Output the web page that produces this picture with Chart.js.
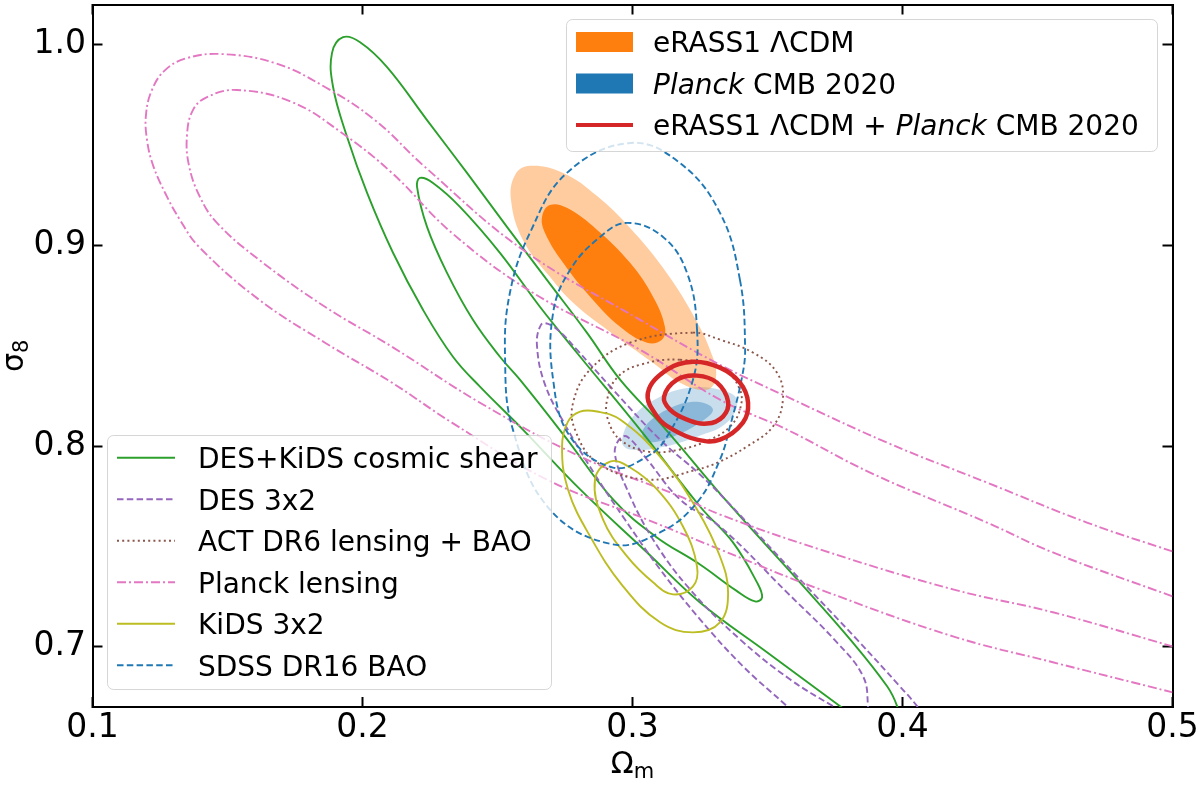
<!DOCTYPE html>
<html><head><meta charset="utf-8">
<script src="https://cdn.jsdelivr.net/npm/chart.js@4.4.1/dist/chart.umd.min.js"></script>
<style>html,body{margin:0;padding:0;background:#fff}</style>
</head><body>
<canvas id="c" width="1200" height="791" style="width:1200px;height:791px;display:block"></canvas>
<script>
// ---------- axis ranges and ticks ----------
const xRange = [0.1, 0.5];
const yRange = [0.67, 1.02];
const xTicks = [0.1, 0.2, 0.3, 0.4, 0.5];
const yTicks = [0.7, 0.8, 0.9, 1.0];
const xTitle = ['Ω', 'm'];
const yTitle = ['σ', '8'];

// ---------- contours: [Omega_m, sigma_8] ----------
const erassOuter = [[0.2991,0.9087],[0.3113,0.8888],[0.3224,0.8654],[0.3294,0.8455],[0.3309,0.8341],[0.3276,0.8281],[0.3176,0.8316],[0.3076,0.8415],[0.2906,0.858],[0.278,0.8714],[0.2694,0.8843],[0.2594,0.9027],[0.255,0.9226],[0.2565,0.9351],[0.262,0.9396],[0.2743,0.9361],[0.2869,0.9246]];
const erassInner = [[0.2991,0.8913],[0.3076,0.8744],[0.312,0.8594],[0.3109,0.853],[0.3054,0.8515],[0.2954,0.8594],[0.2843,0.8744],[0.2743,0.8913],[0.2676,0.9062],[0.2665,0.9142],[0.2694,0.9201],[0.2757,0.9187],[0.2869,0.9077]];
const planckOuter = [[0.3102,0.7993],[0.2991,0.7983],[0.2961,0.8022],[0.3002,0.8147],[0.3102,0.8246],[0.3213,0.8291],[0.3324,0.8281],[0.3387,0.8231],[0.335,0.8117],[0.3239,0.8047]];
const planckInner = [[0.315,0.8047],[0.3054,0.8022],[0.3039,0.8082],[0.3128,0.8182],[0.3239,0.8221],[0.3298,0.8182],[0.325,0.8117]];
const jointOuter = [[0.3224,0.842],[0.3324,0.8391],[0.3398,0.8316],[0.3428,0.8216],[0.3409,0.8117],[0.3324,0.8032],[0.3239,0.8032],[0.315,0.8082],[0.3091,0.8147],[0.3057,0.8266],[0.3128,0.8381]];
const jointInner = [[0.3239,0.8351],[0.3313,0.8316],[0.3354,0.8221],[0.3335,0.8147],[0.3276,0.8112],[0.3202,0.8132],[0.3139,0.8182],[0.3117,0.8246],[0.3165,0.8331]];
const actOuter = [[0.3224,0.8565],[0.3324,0.853],[0.3447,0.8465],[0.3535,0.8366],[0.3557,0.8231],[0.352,0.8097],[0.3424,0.7998],[0.3324,0.7923],[0.3239,0.7883],[0.3054,0.7833],[0.2869,0.7918],[0.2787,0.8082],[0.278,0.8216],[0.2843,0.8381],[0.2991,0.8515]];
const actInner = [[0.3176,0.843],[0.3335,0.8381],[0.3398,0.8281],[0.3398,0.8182],[0.3361,0.8097],[0.3287,0.8032],[0.3176,0.7983],[0.3054,0.7973],[0.2954,0.8032],[0.2909,0.8132],[0.2906,0.8231],[0.2943,0.8341],[0.3028,0.8405]];
const sdssOuter = [[0.3398,0.8828],[0.3417,0.8495],[0.3406,0.8346],[0.3361,0.8097],[0.3324,0.7933],[0.3239,0.7719],[0.3102,0.757],[0.2928,0.751],[0.2694,0.7684],[0.2557,0.8082],[0.2528,0.8445],[0.2546,0.8764],[0.262,0.9062],[0.2757,0.9361],[0.2991,0.951],[0.3176,0.941],[0.3324,0.9162]];
const sdssInner = [[0.3239,0.858],[0.3224,0.8331],[0.3128,0.8047],[0.3054,0.7948],[0.2928,0.7893],[0.2769,0.8047],[0.2706,0.8331],[0.2706,0.8664],[0.2769,0.8878],[0.288,0.9042],[0.298,0.9112],[0.3113,0.9042],[0.3202,0.8863]];
const shearOuter = [[0.3835,0.6639],[0.3769,0.6704],[0.3498,0.6973],[0.325,0.7221],[0.3054,0.747],[0.2806,0.7784],[0.2594,0.8082],[0.2435,0.8296],[0.2335,0.8445],[0.2224,0.8679],[0.2113,0.8963],[0.2017,0.9261],[0.1943,0.954],[0.1891,0.9789],[0.1887,0.9958],[0.1928,1.0037],[0.1991,1.0012],[0.2091,0.9888],[0.2239,0.9624],[0.2387,0.9361],[0.2535,0.9092],[0.2683,0.8828],[0.2831,0.8565],[0.2954,0.8331],[0.3117,0.8092],[0.3343,0.7734],[0.362,0.7321],[0.3806,0.7037],[0.3943,0.6803],[0.398,0.6704],[0.3987,0.6639]];
const shearInner = [[0.2657,0.8694],[0.2794,0.8465],[0.3028,0.8082],[0.325,0.7699],[0.3372,0.752],[0.3461,0.7321],[0.348,0.7246],[0.3454,0.7226],[0.3383,0.7281],[0.325,0.741],[0.3085,0.755],[0.2928,0.7734],[0.275,0.8047],[0.2583,0.8331],[0.2509,0.8445],[0.2409,0.8629],[0.2313,0.8863],[0.2239,0.9092],[0.2202,0.9291],[0.2213,0.9336],[0.2261,0.9311],[0.2361,0.9192],[0.2509,0.8963]];
const des3x2Outer = [[0.362,0.6639],[0.3572,0.6704],[0.3409,0.6903],[0.325,0.7137],[0.3102,0.7386],[0.2972,0.7634],[0.2861,0.7858],[0.275,0.8107],[0.2676,0.8306],[0.2646,0.8505],[0.2661,0.8604],[0.2687,0.8609],[0.2731,0.857],[0.2794,0.848],[0.2928,0.8281],[0.3102,0.8032],[0.325,0.7858],[0.3361,0.7709],[0.362,0.7336],[0.3831,0.7037],[0.399,0.6803],[0.4054,0.6704],[0.4083,0.6639]];
const des3x2Inner = [[0.3806,0.6659],[0.3743,0.6704],[0.3583,0.6838],[0.3398,0.7037],[0.3213,0.7286],[0.3076,0.7535],[0.298,0.7784],[0.2935,0.7958],[0.295,0.8032],[0.298,0.8047],[0.3054,0.7933],[0.3176,0.7734],[0.3324,0.7599],[0.3572,0.7271],[0.3757,0.7022],[0.3854,0.6853],[0.3872,0.6704],[0.3865,0.6659]];
const kidsOuter = [[0.3239,0.7684],[0.3324,0.745],[0.3354,0.7271],[0.3324,0.7122],[0.3224,0.7072],[0.3102,0.7122],[0.2965,0.7301],[0.2843,0.755],[0.2761,0.7784],[0.2739,0.7998],[0.2761,0.8122],[0.2806,0.8172],[0.2869,0.8172],[0.2954,0.8132],[0.3102,0.7948]];
const kidsInner = [[0.3091,0.7784],[0.3187,0.7599],[0.3239,0.74],[0.3224,0.7301],[0.315,0.7261],[0.3076,0.7321],[0.298,0.745],[0.2891,0.7634],[0.2861,0.7833],[0.2917,0.7923],[0.2991,0.7893]];
const lensOuter = [[0.5,0.7475],[0.4683,0.7619],[0.4313,0.7818],[0.3943,0.8017],[0.3572,0.8246],[0.3324,0.8405],[0.3028,0.8629],[0.2594,0.8978],[0.2231,0.9391],[0.2046,0.9624],[0.1861,0.9789],[0.1676,0.9908],[0.148,0.9953],[0.135,0.9933],[0.1269,0.9873],[0.122,0.9774],[0.1198,0.9649],[0.1202,0.9525],[0.1224,0.94],[0.1269,0.9261],[0.1324,0.9127],[0.1394,0.8993],[0.1617,0.8729],[0.1861,0.8515],[0.2109,0.8316],[0.2331,0.8117],[0.2683,0.7833],[0.3054,0.7634],[0.3324,0.7485],[0.3694,0.7286],[0.4187,0.7052],[0.4557,0.6923],[0.5,0.6773]];
const lensInner = [[0.5,0.7251],[0.4557,0.747],[0.4313,0.7619],[0.388,0.7868],[0.3572,0.8082],[0.3324,0.8231],[0.3028,0.848],[0.2631,0.8764],[0.2331,0.9062],[0.2109,0.9361],[0.1924,0.956],[0.1739,0.9714],[0.1535,0.9774],[0.1424,0.9739],[0.1372,0.9674],[0.135,0.955],[0.1357,0.94],[0.1398,0.9241],[0.1461,0.9112],[0.1617,0.8928],[0.1861,0.8694],[0.2109,0.8495],[0.2435,0.8216],[0.2806,0.7948],[0.3176,0.7749],[0.3324,0.7659],[0.3694,0.7485],[0.4187,0.7286],[0.4557,0.7172],[0.5,0.7002]];

// ---------- legend labels ----------
const topLegendLabels = [
  [['eRASS1 ΛCDM', false]],
  [['Planck', true], [' CMB 2020', false]],
  [['eRASS1 ΛCDM + ', false], ['Planck', true], [' CMB 2020', false]]
];
const bottomLegendLabels = ['DES+KiDS cosmic shear', 'DES 3x2', 'ACT DR6 lensing + BAO', 'Planck lensing', 'KiDS 3x2', 'SDSS DR16 BAO'];

// ---------- styles ----------
const COL = {green:'#2ca02c', purple:'#9467bd', brown:'#8c564b', pink:'#e377c2', olive:'#bcbd22', blue:'#1f77b4', red:'#d62728', orange:'#ff7f0e'};
const DASH = {solid:[], dashed:[6.5,3.3], dotted:[2,3.2], dashdot:[9,3,2,3]};
const FONT = '"DejaVu Sans", "Liberation Sans", sans-serif';
const toPts = a => a.map(p => ({x: p[0], y: p[1]}));
function contour(label, data, color, dash, width, closed) {
  return {label, data: toPts(data), borderColor: color, borderWidth: width || 1.9, borderDash: dash,
          fill: false, pointRadius: 0, tension: 0.4, borderCapStyle: 'butt', closedLoop: !!closed};
}
function region(label, data, fillColor) {
  return {label, data: toPts(data), borderColor: 'rgba(0,0,0,0)', borderWidth: 0, backgroundColor: fillColor,
          fill: 'shape', pointRadius: 0, tension: 0.4, closedLoop: true};
}
const datasets = [
  contour('eRASS1 ΛCDM + Planck CMB 2020', jointOuter, COL.red, DASH.solid, 4.5, true),
  contour('eRASS1 ΛCDM + Planck CMB 2020', jointInner, COL.red, DASH.solid, 4.5, true),
  contour('SDSS DR16 BAO', sdssOuter, COL.blue, DASH.dashed, 0, true),
  contour('SDSS DR16 BAO', sdssInner, COL.blue, DASH.dashed, 0, true),
  contour('KiDS 3x2', kidsOuter, COL.olive, DASH.solid, 0, true),
  contour('KiDS 3x2', kidsInner, COL.olive, DASH.solid, 0, true),
  contour('ACT DR6 lensing + BAO', actOuter, COL.brown, DASH.dotted, 0, true),
  contour('ACT DR6 lensing + BAO', actInner, COL.brown, DASH.dotted, 0, true),
  contour('Planck lensing', lensOuter, COL.pink, DASH.dashdot, 0, false),
  contour('Planck lensing', lensInner, COL.pink, DASH.dashdot, 0, false),
  contour('DES 3x2', des3x2Outer, COL.purple, DASH.dashed, 0, false),
  contour('DES 3x2', des3x2Inner, COL.purple, DASH.dashed, 0, true),
  contour('DES+KiDS cosmic shear', shearOuter, COL.green, DASH.solid, 0, false),
  contour('DES+KiDS cosmic shear', shearInner, COL.green, DASH.solid, 0, true),
  region('eRASS1 ΛCDM', erassInner, COL.orange),
  region('eRASS1 ΛCDM', erassOuter, 'rgba(255,127,14,0.4)'),
  region('Planck CMB 2020', planckInner, 'rgba(31,119,180,0.36)'),
  region('Planck CMB 2020', planckOuter, 'rgba(31,119,180,0.24)')
];

// ---------- plugins ----------
const loopPlugin = {
  id: 'closedLoops',
  afterDatasetsUpdate(chart) {
    chart.data.datasets.forEach((d, i) => {
      if (!d.closedLoop) return;
      const line = chart.getDatasetMeta(i).dataset;
      if (line) { line._loop = true; line._fullLoop = true; line._pointsUpdated = false; delete line._segments; delete line._path; }
    });
  }
};
function roundRect(ctx, x, y, w, h, r) {
  ctx.beginPath();
  ctx.moveTo(x + r, y);
  ctx.arcTo(x + w, y, x + w, y + h, r);
  ctx.arcTo(x + w, y + h, x, y + h, r);
  ctx.arcTo(x, y + h, x, y, r);
  ctx.arcTo(x, y, x + w, y, r);
  ctx.closePath();
}
function legendBox(ctx, x, y, w, h) {
  roundRect(ctx, x, y, w, h, 6);
  ctx.fillStyle = 'rgba(255,255,255,0.8)';
  ctx.fill();
  ctx.strokeStyle = 'rgba(204,204,204,0.8)';
  ctx.lineWidth = 1;
  ctx.setLineDash([]);
  ctx.stroke();
}
function richText(ctx, parts, x, y, size) {
  let cx = x;
  for (const [t, it] of parts) {
    ctx.font = (it ? 'italic ' : '') + size + 'px ' + FONT;
    ctx.fillText(t, cx, y);
    cx += ctx.measureText(t).width;
  }
}
const legendsPlugin = {
  id: 'twoLegends',
  afterDraw(chart) {
    const ctx = chart.ctx;
    const ds = chart.data.datasets;
    ctx.save();
    ctx.textBaseline = 'alphabetic';
    ctx.textAlign = 'left';
    legendBox(ctx, 566.5, 19.5, 591, 132);
    const rowH = 41.5;
    const topHandles = [
      {type: 'patch', color: COL.orange},
      {type: 'patch', color: COL.blue},
      {type: 'line', color: COL.red, width: 4}
    ];
    topLegendLabels.forEach((parts, i) => {
      const cy = 42 + i * rowH;
      const h = topHandles[i];
      if (h.type === 'patch') {
        ctx.fillStyle = h.color;
        ctx.fillRect(576, cy - 10, 57, 20);
      } else {
        ctx.strokeStyle = h.color; ctx.lineWidth = h.width; ctx.setLineDash([]);
        ctx.beginPath(); ctx.moveTo(576, cy); ctx.lineTo(633, cy); ctx.stroke();
      }
      ctx.fillStyle = '#000';
      richText(ctx, parts, 653, cy + 10.3, 28);
    });
    legendBox(ctx, 107.5, 435.5, 444, 254);
    bottomLegendLabels.forEach((lab, i) => {
      const cy = 457.7 + i * rowH;
      const d = ds.find(e => e.label === lab);
      ctx.strokeStyle = d.borderColor; ctx.lineWidth = 1.9; ctx.setLineDash(d.borderDash);
      ctx.lineCap = 'butt';
      ctx.beginPath(); ctx.moveTo(117, cy); ctx.lineTo(175, cy); ctx.stroke();
      ctx.fillStyle = '#000';
      richText(ctx, [[lab, false]], 198, cy + 10.3, 28);
    });
    ctx.restore();
  }
};
const titlesPlugin = {
  id: 'axisTitles',
  afterDraw(chart) {
    const ctx = chart.ctx, a = chart.chartArea;
    ctx.save();
    ctx.fillStyle = '#000';
    ctx.textBaseline = 'alphabetic';
    ctx.textAlign = 'left';
    const big = '30px ' + FONT, small = '21px ' + FONT;
    ctx.font = big; const w1 = ctx.measureText(xTitle[0]).width;
    ctx.font = small; const w2 = ctx.measureText(xTitle[1]).width;
    const x0 = (a.left + a.right) / 2 - (w1 + w2) / 2;
    ctx.font = big; ctx.fillText(xTitle[0], x0, 773);
    ctx.font = small; ctx.fillText(xTitle[1], x0 + w1, 778);
    ctx.font = big; const v1 = ctx.measureText(yTitle[0]).width;
    ctx.font = small; const v2 = ctx.measureText(yTitle[1]).width;
    ctx.translate(23, (a.top + a.bottom) / 2);
    ctx.rotate(-Math.PI / 2);
    const s0 = -(v1 + v2) / 2;
    ctx.font = big; ctx.fillText(yTitle[0], s0, 0);
    ctx.font = small; ctx.fillText(yTitle[1], s0 + v1, 5);
    ctx.restore();
  }
};

// ---------- scales ----------
const tickFont = {family: FONT, size: 33};
const fmt = v => Number(v).toFixed(1);
function gridIn() {
  return {drawOnChartArea: false, drawTicks: true, tickLength: -10, tickWidth: 2, tickColor: '#000'};
}
const borderBlack = {display: true, color: '#000', width: 2};
function noPad(s) { s.paddingLeft = 0; s.paddingRight = 0; s.paddingTop = 0; s.paddingBottom = 0; }

new Chart(document.getElementById('c'), {
  type: 'line',
  data: {datasets},
  options: {
    responsive: false,
    animation: false,
    events: [],
    layout: {padding: {left: 0, right: 27.5, top: 4.5, bottom: 0}},
    plugins: {legend: {display: false}, tooltip: {enabled: false}},
    elements: {point: {radius: 0}},
    scales: {
      x: {type: 'linear', position: 'bottom', min: xRange[0], max: xRange[1],
          afterBuildTicks: s => { s.ticks = xTicks.map(v => ({value: v})); },
          afterFit: s => { s.height = 84; noPad(s); },
          ticks: {font: tickFont, color: '#000', padding: 12, maxRotation: 0, callback: fmt},
          grid: gridIn(), border: borderBlack},
      x2: {type: 'linear', position: 'top', min: xRange[0], max: xRange[1],
          afterBuildTicks: s => { s.ticks = xTicks.map(v => ({value: v})); },
          afterFit: s => { s.height = 0; noPad(s); },
          ticks: {display: false},
          grid: gridIn(), border: borderBlack},
      y: {type: 'linear', position: 'left', min: yRange[0], max: yRange[1],
          afterBuildTicks: s => { s.ticks = yTicks.map(v => ({value: v})); },
          afterFit: s => { s.width = 92.5; noPad(s); },
          ticks: {font: tickFont, color: '#000', padding: 16.5, callback: fmt},
          grid: gridIn(), border: borderBlack},
      y2: {type: 'linear', position: 'right', min: yRange[0], max: yRange[1],
          afterBuildTicks: s => { s.ticks = yTicks.map(v => ({value: v})); },
          afterFit: s => { s.width = 0; noPad(s); },
          ticks: {display: false},
          grid: gridIn(), border: borderBlack}
    }
  },
  plugins: [loopPlugin, titlesPlugin, legendsPlugin]
});
</script>
</body></html>
